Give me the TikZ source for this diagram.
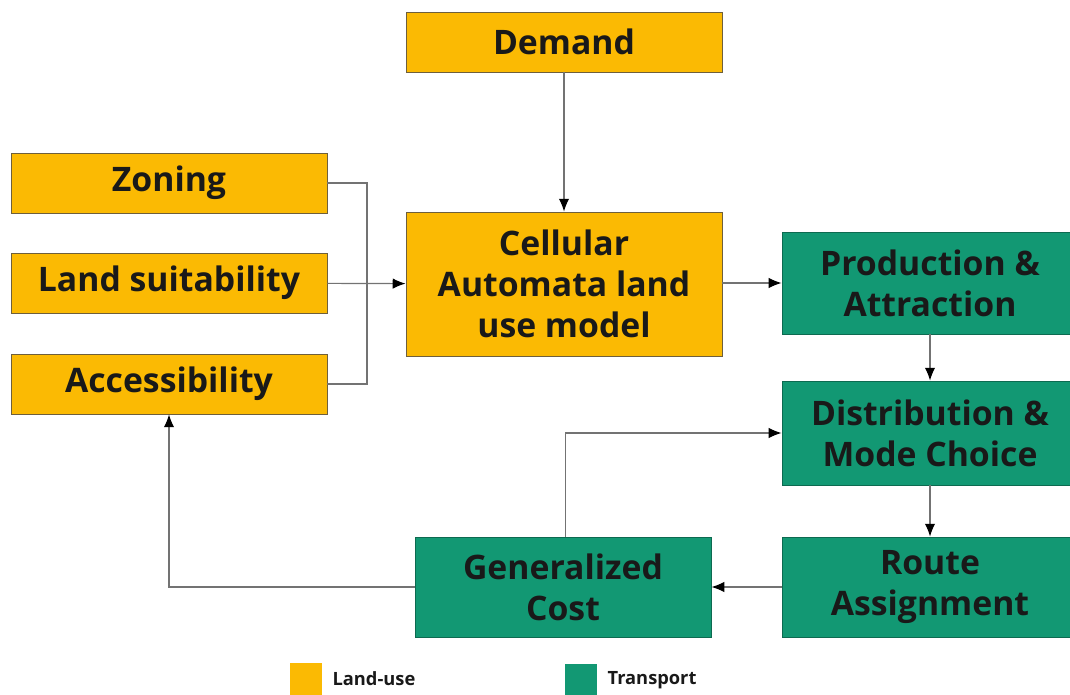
\documentclass[tikz,border=0pt]{standalone}
\usepackage{fontspec}
\setmainfont{Open Sans}
\usetikzlibrary{arrows.meta,positioning}

\definecolor{landuse}{RGB}{251,186,3}
\definecolor{transport}{RGB}{18,152,115}
\definecolor{boxline}{RGB}{110,95,60}

\begin{document}
\begin{tikzpicture}
    [x=0.025cm, y=-0.025cm,
    every node/.style={align=center, inner sep=0pt, text=black!90,
        font=\fontsize{24}{29}\selectfont\bfseries},
    landbox/.style={draw=boxline, line width=0.6pt, fill=landuse,
        minimum width=7.9cm},
    transbox/.style={draw=transport!70!black, line width=0.6pt, fill=transport,
        minimum width=7.4cm},
    link/.style={draw=black!55, line width=0.8pt},
    flow/.style={link, -{Latex[length=3.2mm,width=2.6mm,fill=black,color=black]}},
    swatch/.style={fill=#1, minimum width=0.8cm, minimum height=0.8cm},
    legend/.style={font=\fontsize{13}{15}\selectfont\bfseries, anchor=west}
    ]
    \useasboundingbox (0,0) rectangle (1070,695);

    % land use side
    \node (demand) [landbox, minimum height=1.5cm] at (564,42) {Demand};
    \node (zoning) [landbox, minimum height=1.5cm] at (169,183) {Zoning};
    \node (suit) [landbox, minimum height=1.5cm] at (169,283) {Land suitability};
    \node (access) [landbox, minimum height=1.5cm] at (169,384) {Accessibility};
    \node (ca) [landbox, minimum height=3.6cm] at (564,284) {Cellular\\Automata land\\use model};

    % transport side
    \node (prod) [transbox, minimum height=2.55cm] at (930,283) {Production \&\\Attraction};
    \node (dist) [transbox, minimum height=2.6cm] at (930,433) {Distribution \&\\Mode Choice};
    \node (route) [transbox, minimum height=2.5cm] at (930,587) {Route\\Assignment};
    \node (cost) [transbox, minimum height=2.5cm] at (563,587) {Generalized\\Cost};

    \coordinate (join) at (367,283);

    \draw [flow] (demand) -- (ca);
    \draw [link] (zoning.east) -| (join) |- (access.east);
    \draw [flow] (suit) -- (ca);
    \draw [flow] (ca.east |- prod) -- (prod);
    \draw [flow] (prod) -- (dist);
    \draw [flow] (dist) -- (route);
    \draw [flow] (route) -- (cost);
    \draw [flow] ([xshift=2pt]cost.north) |- (dist.west);
    \draw [flow] (cost.west) -| (access.south);

    % legend
    \node (lu) [swatch=landuse] at (306,679) {};
    \node [legend, right=0.25cm of lu] {Land-use};
    \node (tr) [swatch=transport] at (581,680) {};
    \node [legend, right=0.25cm of tr] {Transport};
\end{tikzpicture}
\end{document}
